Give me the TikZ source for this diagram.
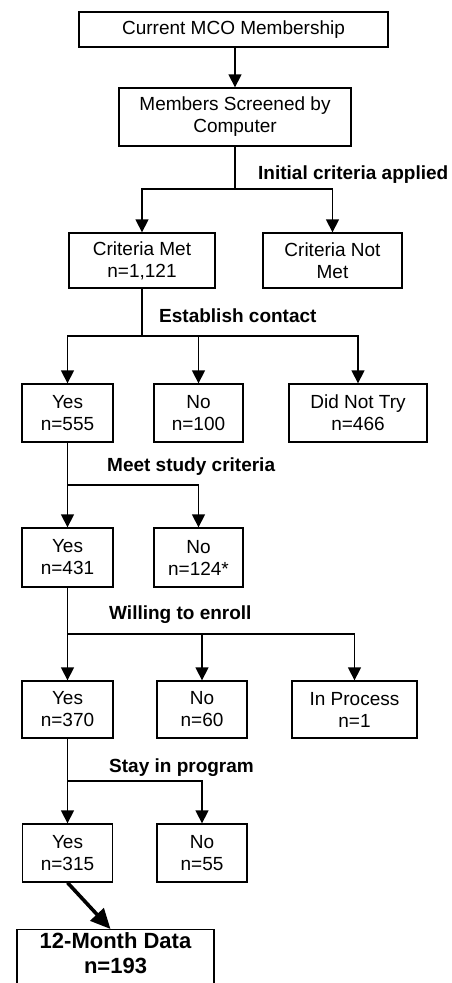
\documentclass[tikz,border=0pt]{standalone}
\usepackage{fontspec}
\setmainfont{Liberation Sans}
\usetikzlibrary{arrows.meta}
\begin{document}
\begin{tikzpicture}[x=1pt,y=-1pt,
  box/.style={draw, line width=1.3pt, align=center, inner sep=0pt, font=\fontsize{19}{22}\selectfont},
  lbl/.style={anchor=base west, inner sep=0pt, font=\fontsize{19}{22}\selectfont\bfseries},
  arr/.style={line width=1.3pt, -{Triangle[length=13pt,width=13pt]}},
  ln/.style={line width=1.3pt},
  bigarr/.style={line width=3.6pt, -{Triangle[length=20pt,width=18pt]}}]
\useasboundingbox (0,0) rectangle (451,983);
\clip (0,0) rectangle (451,983);
% boxes
\node[box, minimum width=309pt, minimum height=35pt] (b1) at (233.5,29.5) {Current MCO Membership};
\node[box, minimum width=232pt, minimum height=58pt] (b2) at (235,117) {Members Screened by\\Computer};
\node[box, minimum width=146pt, minimum height=55pt] (b3) at (142,260.5) {Criteria Met\\n=1,121};
\node[box, minimum width=139pt, minimum height=55pt] (b4) at (332.5,260.5) {Criteria Not\\Met};
\node[box, minimum width=91pt, minimum height=58pt] (c1) at (67.5,413) {Yes\\n=555};
\node[box, minimum width=89pt, minimum height=58pt] (c2) at (198.5,413) {No\\n=100};
\node[box, minimum width=138pt, minimum height=58pt] (c3) at (358,413) {Did Not Try\\n=466};
\node[box, minimum width=91pt, minimum height=59pt] (d1) at (67.5,557.5) {Yes\\n=431};
\node[box, minimum width=89pt, minimum height=59pt] (d2) at (198.5,557.5) {No\\n=124*};
\node[box, minimum width=91pt, minimum height=57pt] (e1) at (67.5,709.5) {Yes\\n=370};
\node[box, minimum width=90pt, minimum height=57pt] (e2) at (202,709.5) {No\\n=60};
\node[box, minimum width=125pt, minimum height=57pt] (e3) at (354.5,709.5) {In Process\\n=1};
\node[box, minimum width=90pt, minimum height=58pt] (f1) at (67.5,853) {Yes\\n=315};
\node[box, minimum width=90pt, minimum height=58pt] (f2) at (202,853) {No\\n=55};
\node[draw, line width=1.3pt, anchor=north, minimum width=197pt, inner xsep=0pt, inner ysep=3pt,
      text depth=25pt, align=center, font=\fontsize{22}{25}\selectfont\bfseries] (g) at (115.5,929) {12-Month Data\\n=193};
% labels
\node[lbl] (l1) at (258,179) {Initial criteria applied};
\node[lbl] (l2) at (159,322) {Establish contact};
\node[lbl] (l3) at (107,471) {Meet study criteria};
\node[lbl] (l4) at (109,619) {Willing to enroll};
\node[lbl] (l5) at (109,772) {Stay in program};
% split points
\coordinate (s1) at (235,189);
\coordinate (s2) at (142,336);
\coordinate (s3) at (67.5,485);
\coordinate (s4) at (67.5,634);
\coordinate (s5) at (67.5,781);
% connectors
\draw[arr] (b1.south -| b2.north) -- (b2.north);
\draw[ln] (b2.south) -- (s1);
\draw[arr] (s1) -| (b3.north);
\draw[arr] (s1) -| (b4.north);
\draw[ln] (b3.south) -- (s2);
\draw[arr] (s2) -| (c1.north);
\draw[arr] (s2) -| (c2.north);
\draw[arr] (s2) -| (c3.north);
\draw[ln] (c1.south) -- (s3);
\draw[arr] (s3) -- (d1.north);
\draw[arr] (s3) -| (d2.north);
\draw[ln] (d1.south) -- (s4);
\draw[arr] (s4) -- (e1.north);
\draw[arr] (s4) -| (e2.north);
\draw[arr] (s4) -| (e3.north);
\draw[ln] (e1.south) -- (s5);
\draw[arr] (s5) -- (f1.north);
\draw[arr] (s5) -| (f2.north);
\draw[bigarr] (f1.south) -- ([xshift=-5pt]g.north);
\end{tikzpicture}
\end{document}
